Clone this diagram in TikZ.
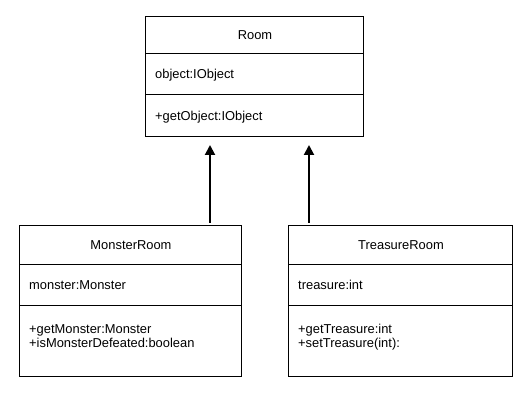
\documentclass[tikz,border=0pt]{standalone}
\usepackage{fontspec}
\setmainfont{Liberation Sans}
\usetikzlibrary{arrows.meta}
\begin{document}
\begin{tikzpicture}[x=1pt,y=-1pt,
  umlbox/.style={draw=black,line width=1pt,minimum width=#1,inner sep=0pt,anchor=north west,fill=white},
  umltext/.style={inner sep=0pt,font=\fontsize{12.9}{14}\selectfont},
  umlline/.style={draw=black,line width=1pt},
  inherit/.style={draw=black,line width=2pt,-{Triangle[width=10pt,length=10pt]}}
]
\useasboundingbox (0,0) rectangle (527,411);
% Room
\node[umlbox=218pt,minimum height=120pt] (room) at (145,16) {};
\draw[umlline] (145,54) -- (363,54);
\draw[umlline] (145,95) -- (363,95);
\node[umltext,anchor=base] (roomt) at (255,40) {Room};
\node[umltext,anchor=base west] (rooma) at (155,79) {object:IObject};
\node[umltext,anchor=base west] (roomm) at (155,121) {+getObject:IObject};
% MonsterRoom
\node[umlbox=222pt,minimum height=151pt] (mroom) at (19,225) {};
\draw[umlline] (19,265) -- (241,265);
\draw[umlline] (19,306) -- (241,306);
\node[umltext,anchor=base] (mroomt) at (131,250) {MonsterRoom};
\node[umltext,anchor=base west] (mrooma) at (29,290) {monster:Monster};
\node[umltext,anchor=base west] (mroomm1) at (29,334) {+getMonster:Monster};
\node[umltext,anchor=base west] (mroomm2) at (29,347) {+isMonsterDefeated:boolean};
% TreasureRoom
\node[umlbox=224pt,minimum height=151pt] (troom) at (288,225) {};
\draw[umlline] (288,265) -- (512,265);
\draw[umlline] (288,306) -- (512,306);
\node[umltext,anchor=base] (troomt) at (401,250) {TreasureRoom};
\node[umltext,anchor=base west] (trooma) at (298,290) {treasure:int};
\node[umltext,anchor=base west] (troomm1) at (298,334) {+getTreasure:int};
\node[umltext,anchor=base west] (troomm2) at (298,347) {+setTreasure(int):};
% arrows
\coordinate (a1s) at (210,223);
\coordinate (a1e) at (210,145);
\coordinate (a2s) at (309,223);
\coordinate (a2e) at (309,145);
\draw[inherit] (a1s) -- (a1e);
\draw[inherit] (a2s) -- (a2e);
\end{tikzpicture}
\end{document}
